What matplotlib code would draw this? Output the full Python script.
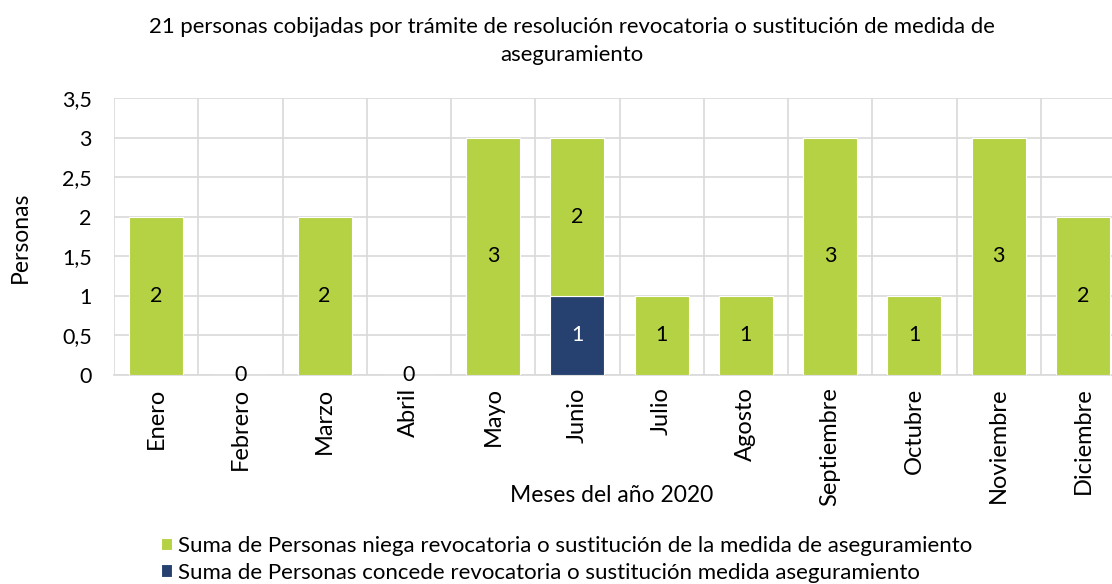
import matplotlib
matplotlib.use("Agg")
import matplotlib.pyplot as plt
import numpy as np
from matplotlib.ticker import FuncFormatter

plt.rcParams['font.family'] = ['Lato', 'DejaVu Sans']

meses = ['Enero', 'Febrero', 'Marzo', 'Abril', 'Mayo', 'Junio', 'Julio',
         'Agosto', 'Septiembre', 'Octubre', 'Noviembre', 'Diciembre']
concede = [0, 0, 0, 0, 0, 1, 0, 0, 0, 0, 0, 0]
niega = [2, 0, 2, 0, 3, 2, 1, 1, 3, 1, 3, 2]

verde = '#b5d144'
azul = '#264170'
gris = '#d9d9d9'

fig = plt.figure(figsize=(11.12, 5.84), dpi=100)
ax = fig.add_axes([114 / 1112, 1 - 375 / 584, 1011 / 1112, 277 / 584])

x = np.arange(len(meses))
w = 0.64
b1 = ax.bar(x, concede, w, color=azul, edgecolor='white', linewidth=0.8, zorder=3,
            label='Suma de Personas concede revocatoria o sustitución medida aseguramiento')
b2 = ax.bar(x, niega, w, bottom=concede, color=verde, edgecolor='white', linewidth=0.8, zorder=3,
            label='Suma de Personas niega revocatoria o sustitución de la medida de aseguramiento')

# etiquetas de datos
for i in range(len(meses)):
    if concede[i] > 0:
        ax.text(x[i], concede[i] / 2, str(concede[i]), ha='center', va='center',
                color='white', fontsize=15.5, zorder=4)
    ax.text(x[i], concede[i] + niega[i] / 2, str(niega[i]), ha='center', va='center',
            color='black', fontsize=15.5, zorder=4)

ax.set_xlim(-0.5, len(meses) - 0.5)
ax.set_ylim(0, 3.5)
ax.set_yticks(np.arange(0, 3.51, 0.5))
ax.yaxis.set_major_formatter(FuncFormatter(lambda v, p: ('%g' % v).replace('.', ',')))
ax.set_xticks(x)
ax.set_xticklabels(meses, rotation=90, fontsize=17)
ax.set_xticks(np.arange(-0.5, len(meses)), minor=True)
ax.tick_params(axis='x', which='both', length=0, pad=9)
ax.tick_params(axis='y', length=0, pad=16, labelsize=15.5)
ax.grid(True, axis='y', color=gris, linewidth=1.2, zorder=0)
ax.grid(True, axis='x', which='minor', color=gris, linewidth=1.2, zorder=0)
ax.grid(False, axis='x', which='major')
for s in ['top', 'right', 'left']:
    ax.spines[s].set_visible(False)
ax.spines['bottom'].set_color(gris)
ax.spines['bottom'].set_linewidth(1.2)
ax.set_axisbelow(True)

fig.text(572 / 1112, 1 - 27 / 584,
         '21 personas cobijadas por trámite de resolución revocatoria o sustitución de medida de',
         ha='center', va='center', fontsize=15.9)
fig.text(572 / 1112, 1 - 55 / 584, 'aseguramiento', ha='center', va='center', fontsize=15.9)
fig.text(20 / 1112, 1 - 237 / 584, 'Personas', rotation=90, ha='center', va='center', fontsize=16.5)
fig.text(612 / 1112, 1 - 495 / 584, 'Meses del año 2020', ha='center', va='center', fontsize=16.5)

fig.legend([b2, b1], [b2.get_label(), b1.get_label()], loc='upper left',
           bbox_to_anchor=(161 / 1112, 1 - 536 / 584), frameon=False, fontsize=16,
           handlelength=0.5, handleheight=0.5, handletextpad=0.25, labelspacing=0.3,
           borderaxespad=0, borderpad=0)

fig.savefig('out.png', dpi=100)
